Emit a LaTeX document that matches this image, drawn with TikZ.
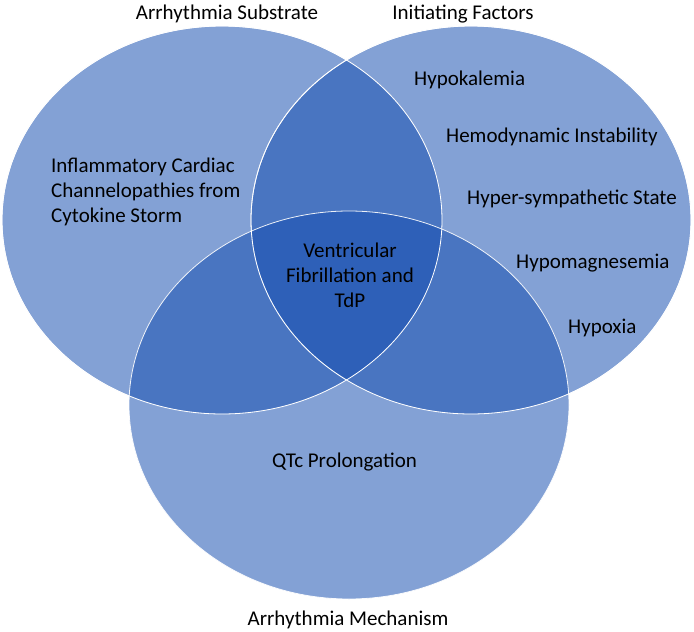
\documentclass[tikz,border=0pt]{standalone}
\usepackage{fontspec}
\setmainfont{Carlito}
\definecolor{vennblue}{RGB}{22,78,177}
\begin{document}
\begin{tikzpicture}[x=1pt,y=-1pt,
  venn/.style={fill=vennblue,fill opacity=0.53,draw=white,draw opacity=0.9,line width=0.8pt},
  lbl/.style={inner sep=0pt,font=\fontsize{21}{25}\selectfont,text=black}]
\useasboundingbox (0,0) rectangle (694,632);
\fill[white] (0,0) rectangle (694,632);
\path[venn] (222,220) ellipse [x radius=220, y radius=194];
\path[venn] (471,220) ellipse [x radius=220, y radius=194];
\path[venn] (349,405) ellipse [x radius=220, y radius=194];
\draw[white,line width=0.8pt] (222,220) ellipse [x radius=220, y radius=194];
\draw[white,line width=0.8pt] (471,220) ellipse [x radius=220, y radius=194];
\node[lbl,anchor=base] (sub) at (227,19) {Arrhythmia Substrate};
\node[lbl,anchor=base] (init) at (463,19) {Initiating Factors};
\node[lbl,anchor=base] (mech) at (348,625) {Arrhythmia Mechanism};
\node[lbl,anchor=base west,align=left] (infl) at (51,222) {Inflammatory Cardiac\\Channelopathies from\\Cytokine Storm};
\node[lbl,anchor=base,align=center] (vf) at (350,307) {Ventricular\\Fibrillation and\\TdP};
\node[lbl,anchor=base west] (hk) at (414,85) {Hypokalemia};
\node[lbl,anchor=base west] (hd) at (446,142) {Hemodynamic Instability};
\node[lbl,anchor=base west] (hs) at (467,204) {Hyper-sympathetic State};
\node[lbl,anchor=base west] (hm) at (516,268) {Hypomagnesemia};
\node[lbl,anchor=base west] (hx) at (568,333) {Hypoxia};
\node[lbl,anchor=base west] (qtc) at (272,467) {QTc Prolongation};
\end{tikzpicture}
\end{document}
